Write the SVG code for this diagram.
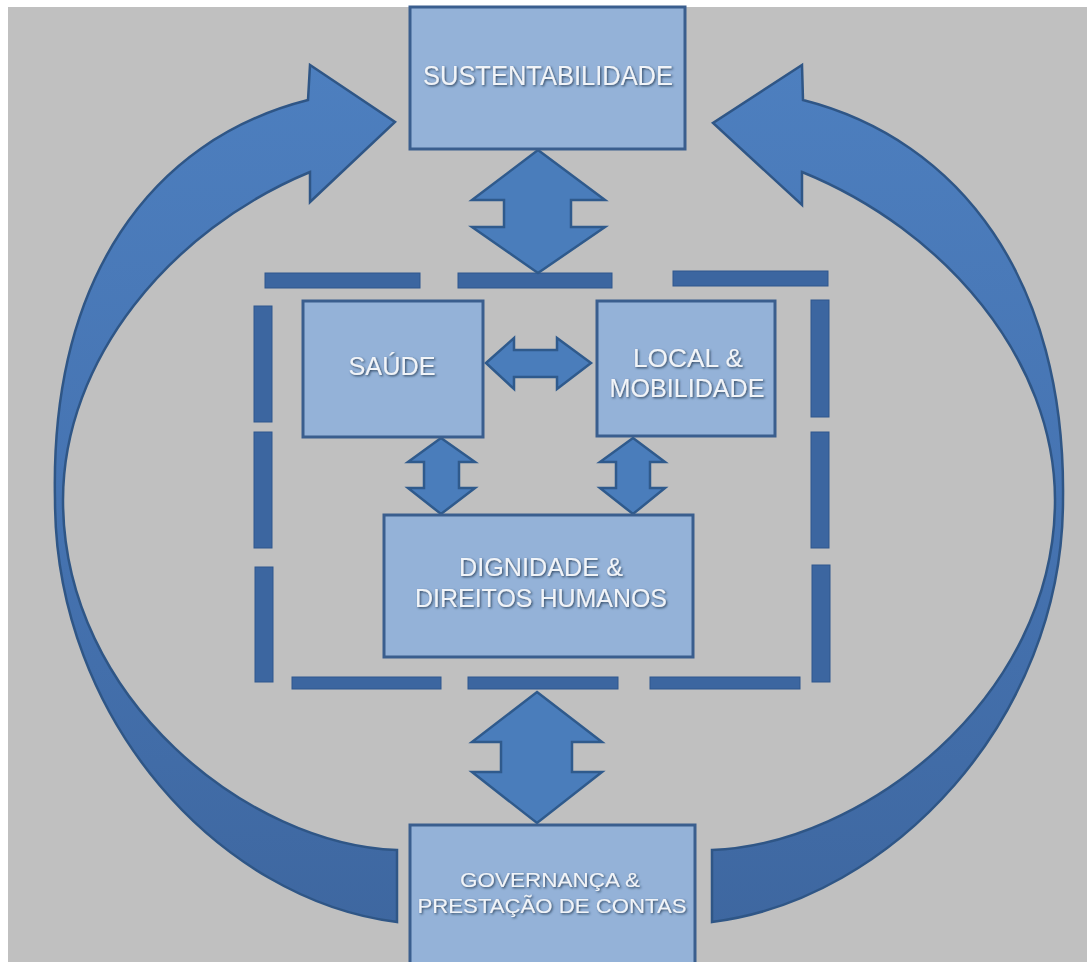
<svg xmlns="http://www.w3.org/2000/svg" width="1087" height="962" viewBox="0 0 1087 962">
  <defs>
    <linearGradient id="curveGrad" gradientUnits="userSpaceOnUse" x1="0" y1="60" x2="0" y2="930">
      <stop offset="0" stop-color="#4d7fbf"/>
      <stop offset="0.5" stop-color="#4674b2"/>
      <stop offset="1" stop-color="#3e67a0"/>
    </linearGradient>
    <filter id="shadow" x="-10%" y="-30%" width="120%" height="160%">
      <feDropShadow dx="1.2" dy="1.2" stdDeviation="0.9" flood-color="#22364f" flood-opacity="0.85"/>
    </filter>
    <style>
      .box { fill: #94b2d8; stroke: #3a5e8e; stroke-width: 3; }
      .dbl { fill: #4a7dbb; stroke: #2f5a8c; stroke-width: 2.5; stroke-linejoin: miter; }
      .curve { fill: url(#curveGrad); stroke: #2f5686; stroke-width: 2.5; stroke-linejoin: miter; }
      .bar { fill: #3c66a0; stroke: #2f578d; stroke-width: 1; }
      .lbl { font-family: "Liberation Sans Narrow", "Liberation Sans", Arial, sans-serif; fill: #f1f4f8; text-anchor: middle; filter: url(#shadow); }
    </style>
  </defs>

  <rect x="0" y="0" width="1087" height="962" fill="#c0c0c0"/>
  <rect x="0" y="0" width="1087" height="7" fill="#ffffff"/>
  <rect x="0" y="0" width="8" height="962" fill="#ffffff"/>

  <g id="frame">
    <rect class="bar" x="265" y="273" width="155" height="15"/>
    <rect class="bar" x="458" y="273" width="154" height="15"/>
    <rect class="bar" x="673" y="271" width="155" height="15"/>
    <rect class="bar" x="254" y="306" width="18" height="116"/>
    <rect class="bar" x="254" y="432" width="18" height="116"/>
    <rect class="bar" x="255" y="567" width="18" height="115"/>
    <rect class="bar" x="811" y="300" width="18" height="117"/>
    <rect class="bar" x="811" y="432" width="18" height="116"/>
    <rect class="bar" x="812" y="565" width="18" height="117"/>
    <rect class="bar" x="292" y="677" width="149" height="12"/>
    <rect class="bar" x="468" y="677" width="150" height="12"/>
    <rect class="bar" x="650" y="677" width="150" height="12"/>
  </g>

  <g id="connectors">
    <path id="curve-left" class="curve" d="M397,850 C250,845 63,700 63,500 C63,360 170,230 310,172 L310,202 L395,122 L310,65 L308,100 C150,140 50,280 55,500 C55,720 220,900 397,922 Z"/>
    <path id="curve-right" class="curve" d="M712,850 C860,845 1055,700 1055,500 C1055,360 945,230 802,172 L802,205 L713,123 L802,65 L803,100 C960,140 1066,280 1063,500 C1063,720 890,900 712,922 Z"/>
    <path id="arrow-top" class="dbl" d="M538,150 L605,200 L571,200 L571,227 L605,227 L538,273 L472,227 L504,227 L504,200 L472,200 Z"/>
    <path id="arrow-bottom" class="dbl" d="M537,692 L602,742 L572,742 L572,772 L602,772 L537,823 L472,772 L501,772 L501,742 L472,742 Z"/>
    <path id="arrow-h" class="dbl" d="M486,363 L514,338 L514,350 L557,350 L557,338 L591,363 L557,389 L557,377 L514,377 L514,389 Z"/>
    <path id="arrow-vl" class="dbl" d="M441,438 L475,462 L459,462 L459,488 L475,488 L441,514 L408,488 L424,488 L424,462 L408,462 Z"/>
    <path id="arrow-vr" class="dbl" d="M633,438 L665,462 L650,462 L650,488 L665,488 L633,514 L600,488 L616,488 L616,462 L600,462 Z"/>
  </g>

  <g id="node-sustentabilidade">
    <rect class="box" x="410" y="7" width="275" height="142"/>
    <text class="lbl" x="548" y="85" font-size="27" textLength="250" lengthAdjust="spacingAndGlyphs">SUSTENTABILIDADE</text>
  </g>

  <g id="node-saude">
    <rect class="box" x="303" y="301" width="180" height="136"/>
    <text class="lbl" x="392" y="375" font-size="25" textLength="87" lengthAdjust="spacingAndGlyphs">SAÚDE</text>
  </g>

  <g id="node-local">
    <rect class="box" x="597" y="301" width="178" height="135"/>
    <text class="lbl" x="688" y="367" font-size="25" textLength="110" lengthAdjust="spacingAndGlyphs">LOCAL &amp;</text>
    <text class="lbl" x="687" y="397" font-size="25" textLength="155" lengthAdjust="spacingAndGlyphs">MOBILIDADE</text>
  </g>

  <g id="node-dignidade">
    <rect class="box" x="384" y="515" width="309" height="142"/>
    <text class="lbl" x="541" y="576" font-size="25" textLength="164" lengthAdjust="spacingAndGlyphs">DIGNIDADE &amp;</text>
    <text class="lbl" x="541" y="607" font-size="25" textLength="252" lengthAdjust="spacingAndGlyphs">DIREITOS HUMANOS</text>
  </g>

  <g id="node-governanca">
    <rect class="box" x="410" y="825" width="285" height="145"/>
    <text class="lbl" x="550" y="887" font-size="21" textLength="180" lengthAdjust="spacingAndGlyphs">GOVERNANÇA &amp;</text>
    <text class="lbl" x="552" y="913" font-size="21" textLength="269" lengthAdjust="spacingAndGlyphs">PRESTAÇÃO DE CONTAS</text>
  </g>
</svg>
